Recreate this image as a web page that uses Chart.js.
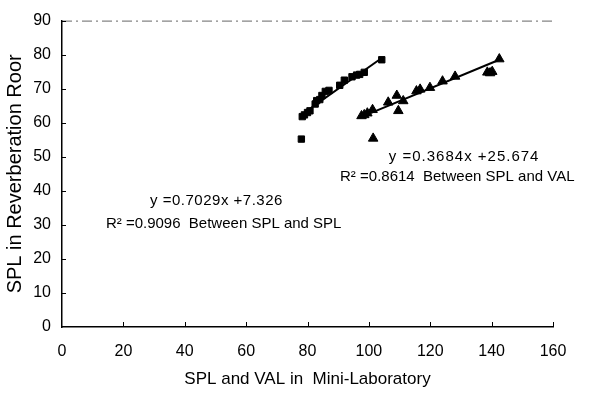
<!DOCTYPE html>
<html><head><meta charset="utf-8">
<script src="https://cdn.jsdelivr.net/npm/chart.js@4/dist/chart.umd.min.js"></script>
<style>html,body{margin:0;padding:0;background:#fff;}#wrap{width:589px;height:393px;position:relative;}</style>
</head><body><div id="wrap"><canvas id="c"></canvas></div>
<script>
// SPL (squares) data
const splX = [78.0, 78.3, 79.0, 80.0, 80.8, 82.5, 83.0, 84.0, 84.7, 85.8, 87.0, 90.5, 92.0, 94.5, 96.0, 97.0, 98.5, 104.2];
const splY = [55.2, 61.8, 62.3, 63.0, 63.5, 65.5, 66.5, 66.8, 68.0, 69.2, 69.5, 71.0, 72.5, 73.5, 74.0, 74.2, 74.8, 78.5];
// VAL (triangles)
const valX = [97.6, 98.5, 99.5, 101.2, 101.4, 106.3, 109.1, 109.6, 111.2, 115.5, 116.7, 119.9, 124.0, 128.1, 138.6, 139.5, 140.2, 142.5];
const valY = [62.0, 62.3, 62.8, 63.8, 55.4, 66.0, 68.0, 63.5, 66.4, 69.3, 69.8, 70.3, 72.2, 73.6, 74.8, 74.6, 75.0, 78.7];
// trend line end points
const splFitX = [77.5, 104.2];
const splFitY = [62.0, 79.0];
const valFitX = [97.0, 142.5];
const valFitY = [61.5, 78.5];
// ticks
const xTicks = [0, 20, 40, 60, 80, 100, 120, 140, 160];
const yTicks = [0, 10, 20, 30, 40, 50, 60, 70, 80, 90];
// annotation texts and anchors (data coordinates, left edge / baseline)
const noteText = ["y =0.3684x +25.674", "R\u00B2 =0.8614  Between SPL and VAL", "y =0.7029x +7.326", "R\u00B2 =0.9096  Between SPL and SPL"];
const noteX = [106.5, 90.6, 28.7, 14.3];
const noteY = [48.7, 43.0, 35.7, 29.1];
const noteSpacing = ['1px', '0px', '0.5px', '0px'];

const toPts = (xs, ys) => xs.map((x, i) => ({x: x, y: ys[i]}));

const extras = {
  id: 'extras',
  afterDraw(chart) {
    const ctx = chart.ctx, a = chart.chartArea;
    const xs = chart.scales.x, ys = chart.scales.y;
    ctx.save();
    // dashed top border
    ctx.strokeStyle = '#666';
    ctx.lineWidth = 1;
    ctx.setLineDash([10, 4, 2, 4]);
    ctx.beginPath(); ctx.moveTo(a.left, a.top + 0.5); ctx.lineTo(a.right, a.top + 0.5); ctx.stroke();
    ctx.setLineDash([]);
    // inner tick marks
    ctx.strokeStyle = '#000';
    ctx.lineWidth = 1;
    xTicks.forEach(v => { if (v === 0) return; const p = Math.round(xs.getPixelForValue(v)) + 0.5; ctx.beginPath(); ctx.moveTo(p, a.bottom); ctx.lineTo(p, a.bottom - 5); ctx.stroke(); });
    yTicks.forEach(v => { if (v === 0) return; const p = Math.round(ys.getPixelForValue(v)) + 0.5; ctx.beginPath(); ctx.moveTo(a.left, p); ctx.lineTo(a.left + 4, p); ctx.stroke(); });
    // annotations
    ctx.fillStyle = '#000';
    ctx.font = "15px 'Liberation Sans', sans-serif";
    ctx.textAlign = 'left'; ctx.textBaseline = 'alphabetic';
    noteText.forEach((t, i) => {
      ctx.letterSpacing = noteSpacing[i];
      ctx.fillText(t, xs.getPixelForValue(noteX[i]), ys.getPixelForValue(noteY[i]));
    });
    ctx.restore();
  }
};

new Chart(document.getElementById('c'), {
  type: 'scatter',
  data: {
    datasets: [
      {label: 'SPL', data: toPts(splX, splY), pointStyle: 'rect', pointRadius: 4.5, backgroundColor: '#000', borderColor: '#000', borderWidth: 1, order: 2},
      {label: 'VAL', data: toPts(valX, valY), pointStyle: 'triangle', pointRadius: 5.5, backgroundColor: '#000', borderColor: '#000', borderWidth: 1, order: 2},
      {label: 'SPL fit', type: 'line', data: toPts(splFitX, splFitY), borderColor: '#000', borderWidth: 2, pointRadius: 0, showLine: true, fill: false, order: 1},
      {label: 'VAL fit', type: 'line', data: toPts(valFitX, valFitY), borderColor: '#000', borderWidth: 2, pointRadius: 0, showLine: true, fill: false, order: 1}
    ]
  },
  options: {
    responsive: true, maintainAspectRatio: false, animation: false,
    layout: {padding: {top: 15, right: 36, left: 3, bottom: 3}},
    plugins: {legend: {display: false}, tooltip: {enabled: false}},
    scales: {
      x: {
        type: 'linear', min: 0, max: 160,
        afterBuildTicks: s => { s.ticks = xTicks.map(v => ({value: v})); },
        afterFit: s => { s.height = 63; },
        grid: {display: true, drawOnChartArea: false, drawTicks: false},
        border: {display: true, color: '#000', width: 1.5},
        ticks: {color: '#000', padding: 15, maxRotation: 0, font: {family: "'Liberation Sans', sans-serif", size: 16}},
        title: {display: true, text: 'SPL and VAL in  Mini-Laboratory', color: '#000', padding: {top: 4, bottom: 0}, font: {family: "'Liberation Sans', sans-serif", size: 17}}
      },
      y: {
        type: 'linear', min: 0, max: 90,
        afterBuildTicks: s => { s.ticks = yTicks.map(v => ({value: v})); },
        afterFit: s => { s.width = 59; },
        grid: {display: true, drawOnChartArea: false, drawTicks: false},
        border: {display: true, color: '#000', width: 1.5},
        ticks: {color: '#000', padding: 11, font: {family: "'Liberation Sans', sans-serif", size: 16}},
        title: {display: true, text: 'SPL in Reverberation Roor', color: '#000', padding: {top: 0, bottom: 2}, font: {family: "'Liberation Sans', sans-serif", size: 20}}
      }
    }
  },
  plugins: [extras]
});
</script></body></html>
